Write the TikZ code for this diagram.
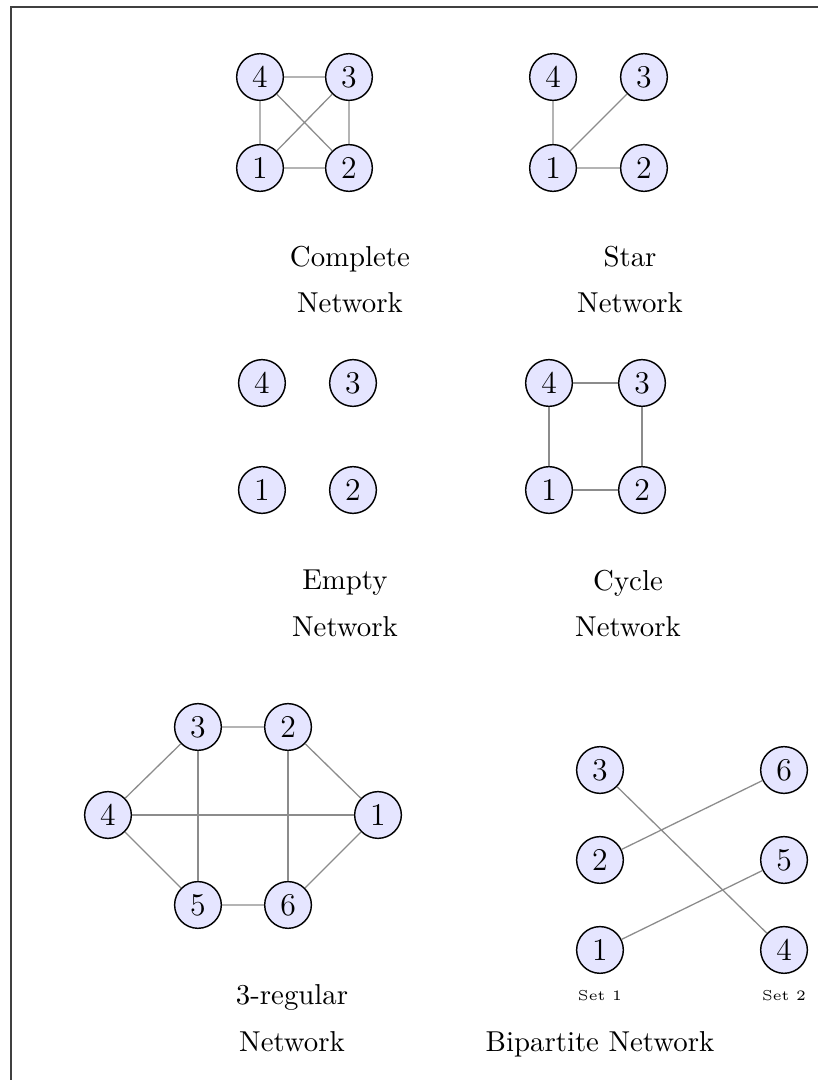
\documentclass[tikz,border=0pt]{standalone}
\usepackage{amsmath}
\usepackage{tikz}
\usetikzlibrary{positioning}

\begin{document}
\begin{tikzpicture}
\tikzset{
  vertex/.style={circle, draw=black, fill=blue!10, line width=0.5pt,
    minimum size=5.7mm, inner sep=0.5pt, font=\fontsize{11}{13}\selectfont},
  link/.style={draw=black!45, line width=0.45pt},
  caption/.style={align=center, font=\normalsize},
  setname/.style={font=\tiny, anchor=base}
}
\useasboundingbox (0,0) rectangle (9.971,13.180);
\draw[black!75, line width=0.6pt] (0.134,-1) -- (0.134,13.095) -- (11,13.095);

% complete
\node[vertex] (c4) at (3.173,12.240) {4};
\node[vertex] (c3) at (4.259,12.240) {3};
\node[vertex] (c1) at (3.173,11.130) {1};
\node[vertex] (c2) at (4.259,11.130) {2};
\draw[link] (c4) -- (c3) (c4) -- (c1) (c4) -- (c2)
  (c3) -- (c1) (c3) -- (c2) (c1) -- (c2);
\node[caption] (ccap) at (4.271,9.769) {Complete\\[4.3pt]Network};

% star
\node[vertex] (s4) at (6.749,12.240) {4};
\node[vertex] (s3) at (7.859,12.240) {3};
\node[vertex] (s1) at (6.749,11.130) {1};
\node[vertex] (s2) at (7.859,11.130) {2};
\draw[link] (s1) -- (s4) (s1) -- (s3) (s1) -- (s2);
\node[caption] (scap) at (7.689,9.769) {Star\\[4.3pt]Network};

% empty
\node[vertex] (e4) at (3.197,8.506) {4};
\node[vertex] (e3) at (4.308,8.506) {3};
\node[vertex] (e1) at (3.197,7.200) {1};
\node[vertex] (e2) at (4.308,7.200) {2};
\node[caption] (ecap) at (4.210,5.815) {Empty\\[4.3pt]Network};

% cycle
\node[vertex] (y4) at (6.700,8.506) {4};
\node[vertex] (y3) at (7.835,8.506) {3};
\node[vertex] (y1) at (6.700,7.200) {1};
\node[vertex] (y2) at (7.835,7.200) {2};
\draw[link] (y4) -- (y3) -- (y2) -- (y1) -- (y4);
\node[caption] (ycap) at (7.664,5.815) {Cycle\\[4.3pt]Network};

% 3-regular
\node[vertex] (r3) at (2.416,4.308) {3};
\node[vertex] (r2) at (3.515,4.308) {2};
\node[vertex] (r4) at (1.318,3.234) {4};
\node[vertex] (r1) at (4.613,3.234) {1};
\node[vertex] (r5) at (2.416,2.136) {5};
\node[vertex] (r6) at (3.515,2.136) {6};
\draw[link] (r3) -- (r2) -- (r1) -- (r6) -- (r5) -- (r4) -- (r3);
\draw[link] (r4) -- (r1) (r3) -- (r5) (r2) -- (r6);
\node[caption] (rcap) at (3.564,0.750) {3-regular\\[4.3pt]Network};

% bipartite
\node[vertex] (b3) at (7.322,3.783) {3};
\node[vertex] (b2) at (7.322,2.685) {2};
\node[vertex] (b1) at (7.322,1.587) {1};
\node[vertex] (b6) at (9.568,3.783) {6};
\node[vertex] (b5) at (9.568,2.685) {5};
\node[vertex] (b4) at (9.568,1.587) {4};
\draw[link] (b3) -- (b4) (b2) -- (b6) (b1) -- (b5);
\node[setname] (set1) at (7.322,0.976) {Set 1};
\node[setname] (set2) at (9.568,0.976) {Set 2};
\node[font=\normalsize, anchor=base] (bcap) at (7.322,0.342) {Bipartite Network};
\end{tikzpicture}
\end{document}
